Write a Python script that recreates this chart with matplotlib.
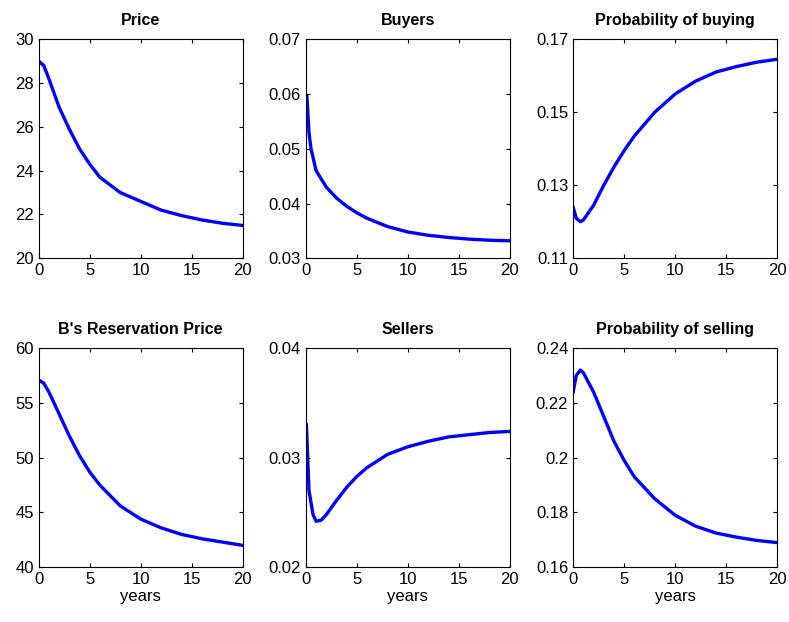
import matplotlib
matplotlib.use("Agg")
import matplotlib.pyplot as plt

plt.rcParams['font.family'] = ['Liberation Sans', 'DejaVu Sans']

years_a = [0, 0.5, 1, 2, 3, 4, 5, 6, 8, 10, 12, 14, 16, 18, 20]
price = [29.0, 28.8, 28.2, 26.9, 25.9, 25.0, 24.3, 23.7, 23.0, 22.6, 22.2, 21.95, 21.75, 21.6, 21.5]
reservation = [57.1, 56.8, 56.0, 54.0, 52.0, 50.2, 48.7, 47.5, 45.6, 44.4, 43.6, 43.0, 42.6, 42.3, 42.0]

years_b = [0.1, 0.3, 0.5, 1, 2, 3, 4, 5, 6, 8, 10, 12, 14, 16, 18, 20]
buyers = [0.0595, 0.053, 0.050, 0.046, 0.043, 0.041, 0.0395, 0.0383, 0.0373, 0.0358, 0.0348,
          0.0342, 0.0338, 0.0335, 0.0333, 0.0332]

years_c = [0, 0.3, 0.7, 1, 2, 3, 4, 5, 6, 8, 10, 12, 14, 16, 18, 20]
prob_buy = [0.124, 0.121, 0.120, 0.1205, 0.1245, 0.130, 0.135, 0.1395, 0.1435, 0.150, 0.155,
            0.1585, 0.161, 0.1625, 0.1637, 0.1645]
prob_sell = [0.224, 0.230, 0.232, 0.231, 0.224, 0.215, 0.206, 0.199, 0.193, 0.185, 0.179,
             0.175, 0.1725, 0.171, 0.1698, 0.169]

years_d = [0.05, 0.3, 0.7, 1, 1.5, 2, 3, 4, 5, 6, 8, 10, 12, 14, 16, 18, 20]
sellers = [0.033, 0.027, 0.0248, 0.0242, 0.0243, 0.0248, 0.0261, 0.0273, 0.0283, 0.0291, 0.0303,
           0.031, 0.0315, 0.0319, 0.0321, 0.0323, 0.0324]

panels = [
    ("Price", years_a, price, (20, 30), [20, 22, 24, 26, 28, 30], None),
    ("Buyers", years_b, buyers, (0.03, 0.07), [0.03, 0.04, 0.05, 0.06, 0.07], None),
    ("Probability of buying", years_c, prob_buy, (0.11, 0.17), [0.11, 0.13, 0.15, 0.17], None),
    ("B's Reservation Price", years_a, reservation, (40, 60), [40, 45, 50, 55, 60], "years"),
    ("Sellers", years_d, sellers, (0.02, 0.04), [0.02, 0.03, 0.04], "years"),
    ("Probability of selling", years_c, prob_sell, (0.16, 0.24), [0.16, 0.18, 0.2, 0.22, 0.24], "years"),
]

fig, axes = plt.subplots(2, 3, figsize=(7.89, 6.22), dpi=100)
fig.subplots_adjust(left=0.049, right=0.985, top=0.937, bottom=0.088, wspace=0.31, hspace=0.41)

for ax, (title, x, y, ylim, yt, xl) in zip(axes.flat, panels):
    ax.plot(x, y, color='blue', lw=2.4)
    ax.set_xlim(0, 20)
    ax.set_ylim(*ylim)
    ax.set_xticks([0, 5, 10, 15, 20])
    ax.set_yticks(yt)
    ax.set_yticklabels([f"{v:g}" for v in yt])
    ax.set_title(title, fontsize=11.5, fontweight='bold', pad=10)
    ax.tick_params(direction='in', top=True, right=True, labelsize=12, length=3)
    if xl:
        ax.set_xlabel(xl, fontsize=12, labelpad=1)

fig.savefig("out.png")
